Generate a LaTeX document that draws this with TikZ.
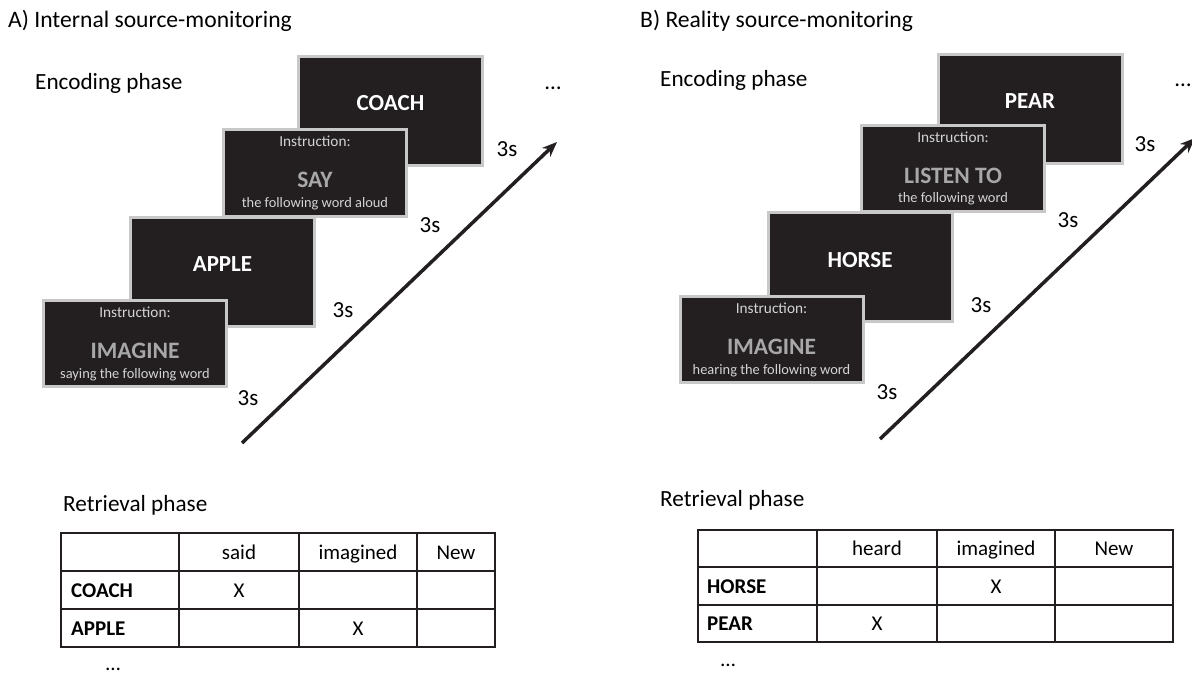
\documentclass[tikz,border=0pt]{standalone}
\usepackage{fontspec}
\setmainfont{Carlito}
\usetikzlibrary{arrows.meta}
\definecolor{boxfill}{HTML}{231F20}
\definecolor{boxedge}{HTML}{C8C8C8}
\definecolor{instrc}{HTML}{D4D4D4}
\definecolor{keyc}{HTML}{A8A8A8}
\definecolor{inkc}{HTML}{231F20}
\begin{document}
\begin{tikzpicture}[x=1pt,y=-1pt,
  wordbox/.style={draw=boxedge, line width=3pt, fill=boxfill, minimum width=184pt, minimum height=109pt, inner sep=0pt},
  instrbox/.style={draw=boxedge, line width=3pt, fill=boxfill, minimum width=183pt, minimum height=86pt, inner sep=0pt},
  wordtxt/.style={anchor=base, text=white, font=\fontsize{23}{23}\selectfont\bfseries, inner sep=0pt},
  insttxt/.style={anchor=base, text=instrc, font=\fontsize{15.3}{15.3}\selectfont, inner sep=0pt},
  keytxt/.style={anchor=base, text=keyc, font=\fontsize{23.5}{23.5}\selectfont\bfseries, inner sep=0pt},
  subtxt/.style={anchor=base, text=instrc, font=\fontsize{14.4}{14.4}\selectfont, inner sep=0pt},
  body/.style={anchor=base, text=black, font=\fontsize{21}{21}\selectfont, inner sep=0pt},
  big/.style={anchor=base west, text=black, font=\fontsize{23.2}{23.2}\selectfont, inner sep=0pt},
  title/.style={anchor=base west, text=black, font=\fontsize{23.6}{23.6}\selectfont, inner sep=0pt},
  secs/.style={anchor=base, text=black, font=\fontsize{23}{23}\selectfont, inner sep=0pt},
  boldw/.style={anchor=base west, text=black, font=\fontsize{21}{21}\selectfont\bfseries, inner sep=0pt},
  tline/.style={draw=inkc, line width=2pt},
  timearrow/.style={draw=inkc, line width=3.5pt, -{Stealth[length=15pt,width=12pt]}},
]
\useasboundingbox (0,0) rectangle (1192,674);

% ---------- Panel A ----------
\node[title] (titleA) at (8,28) {A) Internal source-monitoring};
\node[big] (encA) at (35,90) {Encoding phase};
\node[secs] (dotsA) at (553,90) {…};

\node[wordbox] (coach) at (390.5,111) {};
\node[wordtxt] (coachT) at (coach.center) {COACH};
\node[instrbox] (say) at (315,173) {};
\node[insttxt] (sayI) at ([yshift=-18.5pt]say.north) {Instruction:};
\node[keytxt] (sayK) at ([yshift=-59pt]say.north) {SAY};
\node[subtxt] (sayS) at ([yshift=-79pt]say.north) {the following word aloud};
\node[wordbox] (apple) at (222.5,271.5) {};
\node[wordtxt] (appleT) at (apple.center) {APPLE};
\node[instrbox] (imgA) at (135,343.5) {};
\node[insttxt] (imgAI) at ([yshift=-18.5pt]imgA.north) {Instruction:};
\node[keytxt] (imgAK) at ([yshift=-59pt]imgA.north) {IMAGINE};
\node[subtxt] (imgAS) at ([yshift=-79pt]imgA.north) {saying the following word};

\node[secs] (tA1) at (507,157) {3s};
\node[secs] (tA2) at (430,232) {3s};
\node[secs] (tA3) at (343,317) {3s};
\node[secs] (tA4) at (248,405) {3s};

\coordinate (arrA0) at (242,443);
\coordinate (arrA1) at (557,142);
\draw[timearrow] (arrA0) -- (arrA1);

\node[big] (retA) at (63,511) {Retrieval phase};
\foreach \yy in {533,571,609,647} \draw[tline] (60,\yy) -- (496,\yy);
\foreach \xx in {61,179,299,417,495} \draw[tline] (\xx,533) -- (\xx,647);
\node[body] (hA1) at (239,559) {said};
\node[body] (hA2) at (358,559) {imagined};
\node[body] (hA3) at (456,559) {New};
\node[boldw] (rA1) at (71,597) {COACH};
\node[body] (xA1) at (239,597) {X};
\node[boldw] (rA2) at (71,635) {APPLE};
\node[body] (xA2) at (358,635) {X};
\node[body] (dotsA2) at (113,670) {…};

% ---------- Panel B ----------
\node[title] (titleB) at (640,28) {B) Reality source-monitoring};
\node[big] (encB) at (660,87) {Encoding phase};
\node[secs] (dotsB) at (1183,87) {…};

\node[wordbox] (pear) at (1030,109) {};
\node[wordtxt] (pearT) at (pear.center) {PEAR};
\node[instrbox] (listen) at (953,168.5) {};
\node[insttxt] (lisI) at ([yshift=-18.5pt]listen.north) {Instruction:};
\node[keytxt] (lisK) at ([yshift=-59pt]listen.north) {LISTEN TO};
\node[subtxt] (lisS) at ([yshift=-79pt]listen.north) {the following word};
\node[wordbox] (horse) at (860,267) {};
\node[wordtxt] (horseT) at (horse.center) {HORSE};
\node[instrbox] (imgB) at (771.5,339.5) {};
\node[insttxt] (imgBI) at ([yshift=-18.5pt]imgB.north) {Instruction:};
\node[keytxt] (imgBK) at ([yshift=-59pt]imgB.north) {IMAGINE};
\node[subtxt] (imgBS) at ([yshift=-79pt]imgB.north) {hearing the following word};

\node[secs] (tB1) at (1145,152) {3s};
\node[secs] (tB2) at (1068,227) {3s};
\node[secs] (tB3) at (981,312) {3s};
\node[secs] (tB4) at (887,399) {3s};

\coordinate (arrB0) at (880,439);
\coordinate (arrB1) at (1195,138);
\draw[timearrow] (arrB0) -- (arrB1);

\node[big] (retB) at (660,506) {Retrieval phase};
\foreach \yy in {530,567,605,642} \draw[tline] (697,\yy) -- (1174,\yy);
\foreach \xx in {698,817,937,1055,1173} \draw[tline] (\xx,530) -- (\xx,642);
\node[body] (hB1) at (877,555.5) {heard};
\node[body] (hB2) at (996,555.5) {imagined};
\node[body] (hB3) at (1114,555.5) {New};
\node[boldw] (rB1) at (707,593) {HORSE};
\node[body] (xB1) at (996,593) {X};
\node[boldw] (rB2) at (707,630.5) {PEAR};
\node[body] (xB2) at (877,630.5) {X};
\node[body] (dotsB2) at (728,666) {…};
\end{tikzpicture}
\end{document}
